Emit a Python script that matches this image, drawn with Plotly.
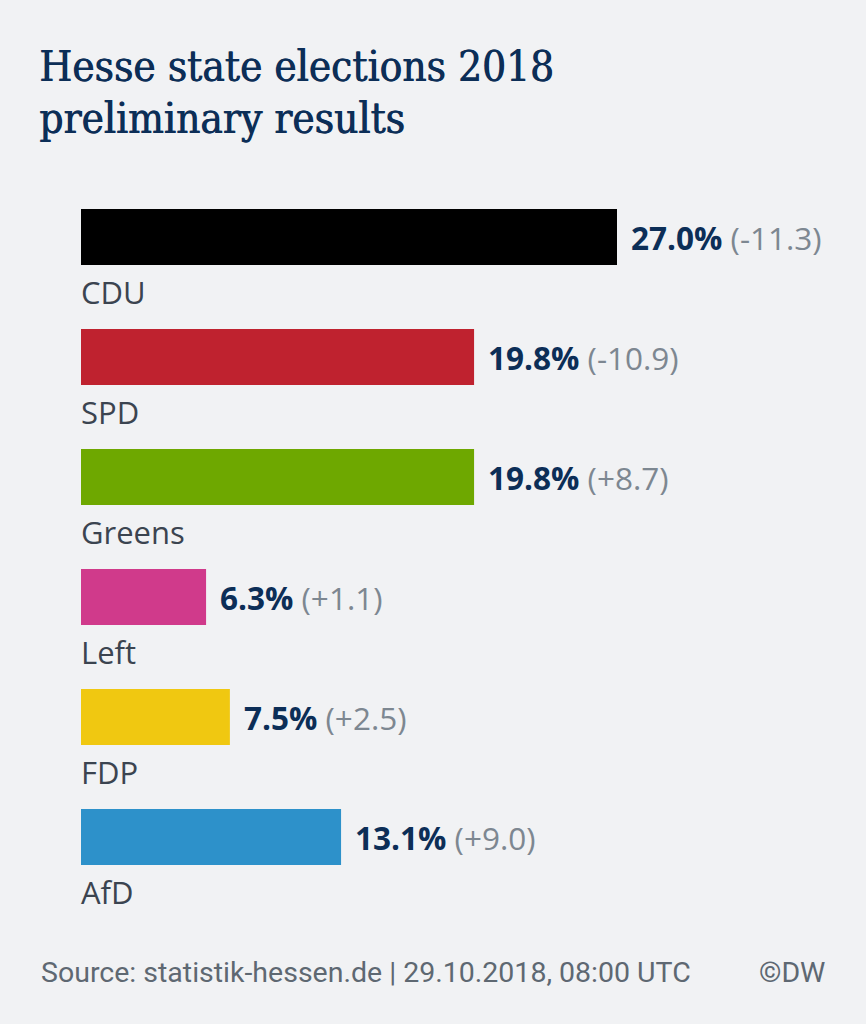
import plotly.graph_objects as go

parties = ["CDU", "SPD", "Greens", "Left", "FDP", "AfD"]
shares = [27.0, 19.8, 19.8, 6.3, 7.5, 13.1]
changes = ["-11.3", "-10.9", "+8.7", "+1.1", "+2.5", "+9.0"]
colors = ["#000000", "#bf222f", "#6ea800", "#d03a8b", "#f0c811", "#2d91ca"]

title_lines = ["Hesse state elections 2018", "preliminary results"]
source_text = "Source: statistik-hessen.de | 29.10.2018, 08:00 UTC"
credit_text = "©DW"

BG = "#f1f2f4"
NAVY = "#0c2e57"
GRAY = "#7d8791"
LABEL = "#3b4450"
SRC = "#5e6872"

W, H = 866, 1024
ML, MT, MB = 81, 177, 127
plot_w = W - ML
xmax = 27.0 * plot_w / 536.0

fig = go.Figure()
fig.add_trace(go.Bar(
    x=shares, y=parties, orientation="h",
    marker=dict(color=colors, line=dict(width=0)),
    width=0.467, hoverinfo="skip",
))

annotations = []
for p, s, c in zip(parties, shares, changes):
    annotations.append(dict(
        x=s, y=p, xref="x", yref="y", xanchor="left", yanchor="middle",
        xshift=12, yshift=0, showarrow=False,
        text=f"<b>{s:.1f}%</b> <span style='color:{GRAY}'>({c})</span>",
        font=dict(family="Open Sans", size=31.5, color=NAVY),
    ))
    annotations.append(dict(
        x=0, y=p, xref="x", yref="y", xanchor="left", yanchor="middle",
        yshift=-55, xshift=-2, showarrow=False, text=p,
        font=dict(family="Open Sans", size=31, color=LABEL),
    ))

plot_h = H - MT - MB
def py(px):
    return (H - MB - px) / plot_h
def pxx(px):
    return (px - ML) / plot_w

title_font = dict(family="DejaVu Serif Condensed, DejaVu Serif", size=42, color=NAVY,
                  shadow="0.8px 0 0 %s" % NAVY)
annotations.append(dict(x=pxx(37), y=py(66), xref="paper", yref="paper",
    xanchor="left", yanchor="middle", showarrow=False, text=title_lines[0], font=title_font))
annotations.append(dict(x=pxx(37), y=py(118), xref="paper", yref="paper",
    xanchor="left", yanchor="middle", showarrow=False, text=title_lines[1], font=title_font))
annotations.append(dict(x=pxx(39), y=py(972), xref="paper", yref="paper",
    xanchor="left", yanchor="middle", showarrow=False, text=source_text,
    font=dict(family="Roboto", size=28.5, color=SRC)))
annotations.append(dict(x=pxx(827), y=py(972), xref="paper", yref="paper",
    xanchor="right", yanchor="middle", showarrow=False, text=credit_text,
    font=dict(family="Roboto", size=28.5, color=SRC)))

fig.update_layout(
    width=W, height=H,
    margin=dict(l=ML, r=0, t=MT, b=MB, pad=0),
    paper_bgcolor=BG, plot_bgcolor=BG,
    showlegend=False,
    xaxis=dict(range=[0, xmax], visible=False, fixedrange=True),
    yaxis=dict(range=[5.5, -0.5], visible=False, fixedrange=True,
               categoryorder="array", categoryarray=parties),
    annotations=annotations,
)

fig.write_html("out.html", config={"displayModeBar": False},
               post_script="document.body.style.margin='0';document.body.style.background='%s';" % BG)
